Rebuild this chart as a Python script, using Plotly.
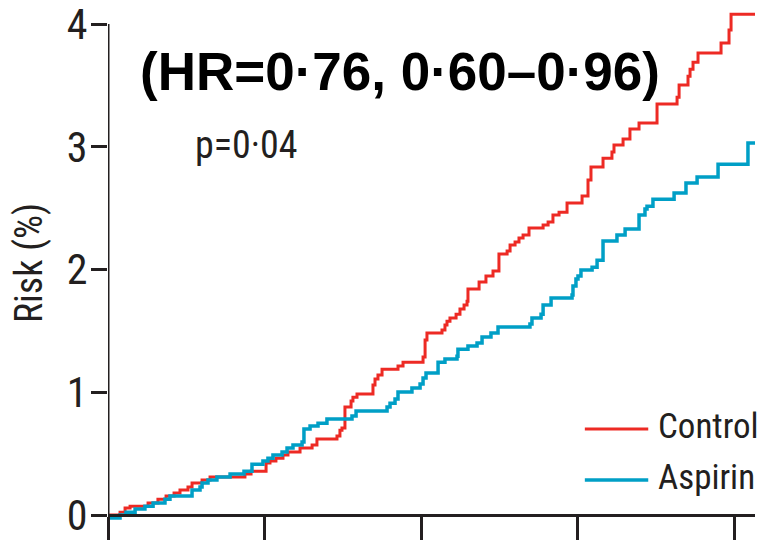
import plotly.graph_objects as go

# ---- data ----
control_t = [0, 0.077, 0.109, 0.141, 0.256, 0.319, 0.371, 0.422, 0.460, 0.511,
             0.537, 0.601, 0.652, 0.875, 0.914, 1.010, 1.035, 1.073, 1.118, 1.150,
             1.227, 1.304, 1.335, 1.463, 1.482, 1.495, 1.514, 1.553, 1.565, 1.591,
             1.693, 1.706, 1.725, 1.751, 1.853, 1.885, 2.013, 2.026, 2.038, 2.134,
             2.153, 2.166, 2.185, 2.224, 2.249, 2.275, 2.294, 2.300, 2.371, 2.415,
             2.460, 2.498, 2.550, 2.569, 2.601, 2.626, 2.652, 2.690, 2.780, 2.812,
             2.843, 2.882, 2.933, 3.029, 3.067, 3.086, 3.163, 3.220, 3.233, 3.291,
             3.335, 3.393, 3.508, 3.636, 3.649, 3.706, 3.719, 3.738, 3.770, 3.917,
             3.968, 3.981, 4.134]
control_risk = [0, 0.024, 0.057, 0.073, 0.098, 0.130, 0.155, 0.179, 0.204, 0.228,
                0.261, 0.285, 0.310, 0.334, 0.358, 0.424, 0.440, 0.464, 0.489, 0.513,
                0.546, 0.570, 0.619, 0.644, 0.692, 0.709, 0.880, 0.929, 0.961, 0.986,
                1.059, 1.108, 1.141, 1.189, 1.214, 1.246, 1.287, 1.426, 1.483, 1.507,
                1.548, 1.580, 1.605, 1.637, 1.678, 1.711, 1.743, 1.841, 1.898, 1.947,
                1.988, 2.126, 2.151, 2.200, 2.224, 2.257, 2.281, 2.338, 2.363, 2.387,
                2.444, 2.468, 2.542, 2.599, 2.729, 2.835, 2.908, 2.957, 3.014, 3.063,
                3.145, 3.194, 3.348, 3.405, 3.503, 3.576, 3.633, 3.690, 3.764, 3.845,
                3.951, 4.081, 4.081]

aspirin_t = [0, 0.077, 0.115, 0.173, 0.236, 0.288, 0.364, 0.396, 0.537, 0.588,
             0.601, 0.639, 0.696, 0.780, 0.869, 0.920, 0.990, 1.022, 1.054, 1.112,
             1.144, 1.182, 1.240, 1.252, 1.291, 1.342, 1.399, 1.559, 1.585, 1.783,
             1.802, 1.834, 1.853, 1.942, 1.994, 2.013, 2.032, 2.109, 2.153, 2.230,
             2.236, 2.300, 2.358, 2.390, 2.447, 2.492, 2.696, 2.709, 2.767, 2.780,
             2.831, 2.965, 2.971, 2.990, 3.003, 3.022, 3.093, 3.125, 3.163, 3.252,
             3.304, 3.393, 3.431, 3.444, 3.482, 3.617, 3.693, 3.764, 3.898, 4.089,
             4.134]
aspirin_risk = [-0.024, 0, 0.024, 0.049, 0.073, 0.098, 0.130, 0.155, 0.204, 0.228,
                0.261, 0.285, 0.310, 0.334, 0.358, 0.415, 0.440, 0.464, 0.489, 0.513,
                0.546, 0.570, 0.595, 0.701, 0.725, 0.749, 0.782, 0.807, 0.847, 0.880,
                0.912, 0.945, 1.002, 1.035, 1.067, 1.116, 1.157, 1.246, 1.271, 1.295,
                1.352, 1.377, 1.401, 1.450, 1.483, 1.532, 1.556, 1.605, 1.637, 1.711,
                1.768, 1.792, 1.866, 1.923, 1.947, 1.996, 2.020, 2.077, 2.232, 2.281,
                2.330, 2.444, 2.493, 2.517, 2.574, 2.623, 2.705, 2.754, 2.859, 3.031,
                3.031]

x_ticks = [0, 1, 2, 3, 4]
y_ticks = [0, 1, 2, 3, 4]
y_tick_labels = ["0", "1", "2", "3", "4"]
series_names = ["Control", "Aspirin"]
hr_text = "(HR=0\u00b776, 0\u00b760\u20130\u00b796)"
p_text = "p=0\u00b704"

# ---- styling ----
RED = "#ED2A24"
BLUE = "#009FC6"
INK = "#231F20"
NARROW = "Liberation Sans Narrow, Arial Narrow, Roboto Condensed, Roboto, sans-serif"

W, H = 764, 540
ML, MR, MT, MB = 108, 9, 6, 20
ppu = 122.75
y_lo = -0.04
y_hi = y_lo + (H - MT - MB) / ppu
x_hi = 4.134

fig = go.Figure()
fig.add_trace(go.Scatter(x=control_t, y=control_risk, mode="lines", name=series_names[0],
                         line=dict(color=RED, width=3, shape="hv"), showlegend=False))
fig.add_trace(go.Scatter(x=aspirin_t, y=aspirin_risk, mode="lines", name=series_names[1],
                         line=dict(color=BLUE, width=3.5, shape="hv"), showlegend=False))

# y axis line (from below zero up to the top tick)
fig.add_shape(type="line", xref="x", yref="y", x0=0, x1=0, y0=y_lo, y1=max(y_ticks),
              line=dict(color=INK, width=3), layer="above")

# legend drawn as lines + labels
leg_y = [0.177, 0.078]
for name, col, lw, yy in zip(series_names, [RED, BLUE], [3, 3.5], leg_y):
    fig.add_shape(type="line", xref="paper", yref="paper", x0=0.737, x1=0.835,
                  y0=yy, y1=yy, line=dict(color=col, width=lw))
    fig.add_annotation(xref="paper", yref="paper", x=0.847, y=yy + 0.004, text=name,
                       showarrow=False, xanchor="left", yanchor="middle",
                       font=dict(family=NARROW, size=35, color=INK))

fig.add_annotation(xref="paper", yref="paper", x=0.0464, y=0.8716, text="<b>" + hr_text + "</b>",
                   showarrow=False, xanchor="left", yanchor="middle",
                   font=dict(family="Liberation Sans, Arial, sans-serif", size=53, color="#000000"))
fig.add_annotation(xref="paper", yref="paper", x=0.1314, y=0.7296, text=p_text,
                   showarrow=False, xanchor="left", yanchor="middle",
                   font=dict(family=NARROW, size=38, color=INK))

fig.update_layout(
    width=W, height=H,
    margin=dict(l=ML, r=MR, t=MT, b=MB, autoexpand=False),
    paper_bgcolor="white", plot_bgcolor="white",
    xaxis=dict(range=[0, x_hi], tickvals=x_ticks, showticklabels=False,
               ticks="outside", ticklen=26, tickwidth=3, tickcolor=INK,
               showline=True, linewidth=3, linecolor=INK,
               showgrid=False, zeroline=False, automargin=False,
               anchor="free", position=(0 - y_lo) / (y_hi - y_lo)),
    yaxis=dict(range=[y_lo, y_hi], tickvals=y_ticks, ticktext=y_tick_labels,
               ticks="outside", ticklen=16, tickwidth=3, tickcolor=INK,
               showline=False, showgrid=False, zeroline=False, automargin=False,
               ticklabeloverflow="allow", ticklabelstandoff=-5,
               tickfont=dict(family=NARROW, size=42, color=INK),
               title=dict(text="Risk (%)", font=dict(family=NARROW, size=38, color=INK),
                          standoff=12)),
)

fig.write_html("out.html")
